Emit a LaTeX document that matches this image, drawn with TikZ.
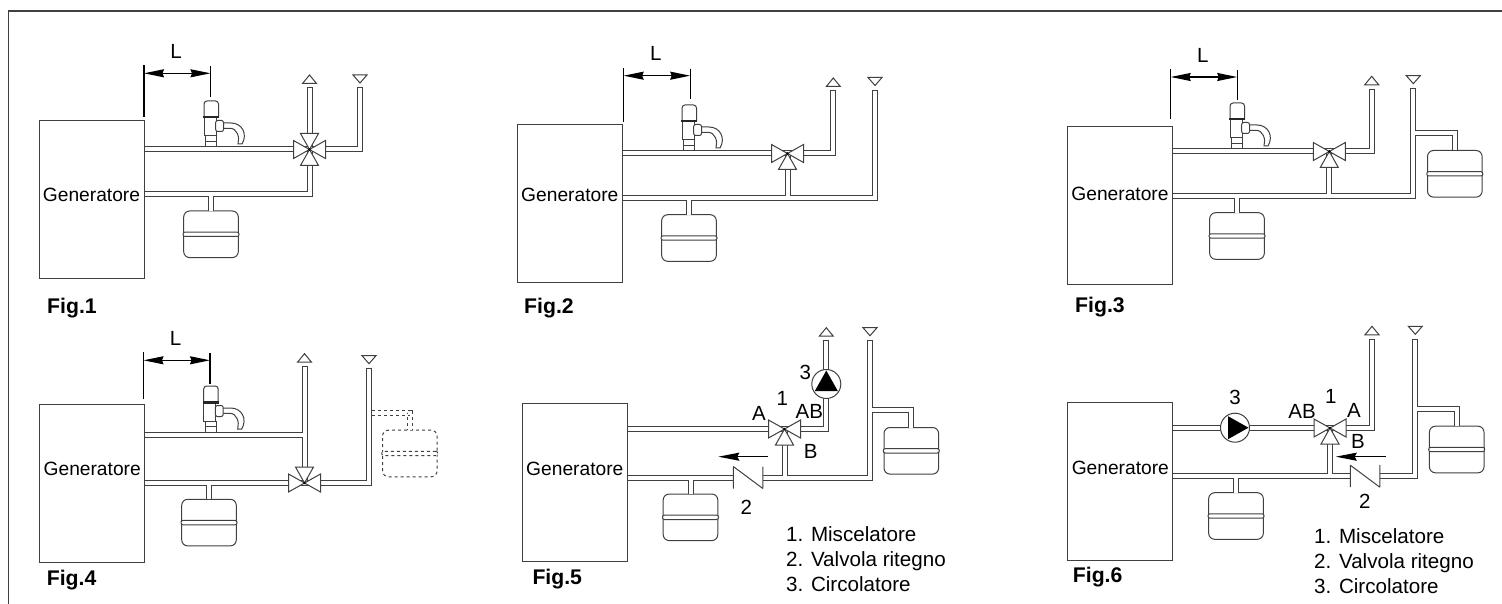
\documentclass[tikz,border=0pt]{standalone}
\usepackage{fontspec}
\setmainfont{Liberation Sans}
\usetikzlibrary{positioning, arrows.meta}
\definecolor{wall}{gray}{0.25}
\newcommand{\gensize}{\fontsize{19.2}{23}\selectfont}
\newcommand{\lblsize}{\fontsize{20.5}{24}\selectfont}
\tikzset{
  pipe/.style={draw=wall, line width=1pt, double=white, double distance=4pt, line join=miter},
  thin line/.style={draw=wall, line width=1pt},
  genbox/.style={thin line, minimum width=105pt, minimum height=158pt, inner sep=0pt, outer sep=0.5pt},
  gentext/.style={font=\gensize, inner sep=0pt},
  vessel/.style={thin line, fill=white, rounded corners=6pt, minimum width=54.6pt, minimum height=46.6pt, inner sep=0pt, outer sep=0pt},
  band/.style={thin line, fill=white, rounded corners=2pt, minimum width=56pt, minimum height=4.4pt, inner sep=0pt},
  pump/.style={thin line, fill=white, circle, minimum size=29pt, inner sep=0pt},
  lbl/.style={font=\lblsize, inner sep=0pt},
  figlabel/.style={font=\fontsize{21.2}{24}\selectfont\bfseries, anchor=base west, inner sep=0pt},
  legend/.style={font=\fontsize{20.6}{25}\selectfont, align=left, anchor=north west, inner sep=0pt},
  flow/.style={line width=1.4pt, -{Stealth[length=21pt,width=8pt,inset=2pt]}},
  pics/wedge/.style={code={
    \draw[thin line, fill=white, line join=miter] (0,0) -- (-16,-9) -- (-16,9) -- cycle;
    \fill[black] (0,0) circle (1.2);
  }},
  pics/upmark/.style={code={
    \draw[thin line] (-3,0) -- (3,0);
    \draw[thin line] (-7,-4.5) -- (7,-4.5) -- (0,-13) -- cycle;
  }},
  pics/downmark/.style={code={
    \draw[thin line] (-3,0) -- (3,0);
    \draw[thin line] (-7,-13) -- (7,-13) -- (0,-5) -- cycle;
  }},
  pics/pumptri/.style={code={
    \fill[black] (-7,-11.5) -- (13.5,0) -- (-7,11.5) -- cycle;
  }},
  pics/check/.style={code={
    \draw[thin line] (0,-11) -- (0,11) (29.5,-11) -- (29.5,11) (0,-11) -- (29.5,11);
  }},
  pics/dimL/.style={code={
    \draw[line width=1.2pt, black] (0,-8) -- (0,#1) (66.5,-7) -- (66.5,23.5);
    \draw[line width=1.3pt, black, {Stealth[length=20pt,width=8pt,inset=1.5pt]}-{Stealth[length=20pt,width=8pt,inset=1.5pt]}] (0,0) -- (66.5,0);
    \node[lbl] (-l) at (32,-22) {L};
  }},
  pics/safety/.style={code={
    \draw[thin line, fill=white] (12,-24) -- (20,-24) .. controls (31,-24) and (37,-13) .. (31,-3) -- (27,-3) .. controls (29,-10) and (26,-18.7) .. (19,-18.7) -- (12,-18.7);
    \draw[thin line, fill=white] (-5.5,-11) -- (-5.5,0) -- (5.5,0) -- (5.5,-11) (-5.5,-5.5) -- (5.5,-5.5);
    \draw[thin line, fill=white] (-7,-29.7) -- (-7,-11) -- (5,-11) -- (5,-29.7);
    \draw[thin line, fill=white, rounded corners=2pt] (4.7,-26.5) rectangle (12.5,-15.5);
    \draw[thin line, fill=white, rounded corners=3pt] (-7,-29.7) -- (-7,-46) -- (7.5,-46) -- (7.5,-29.7);
    \draw[line width=2.4pt, black!85] (-8,-29.7) -- (8,-29.7);
  }},
}
\begin{document}
\begin{tikzpicture}[x=1pt,y=-1pt]
  \path[fill=white, use as bounding box] (0,0) rectangle (1502,604);
  \draw[wall, line width=1.7pt] (8.5,604) -- (8.5,11) -- (1502,11);

  % Fig.1
  \coordinate (mix1) at (309.5,149.5);
  \coordinate (ret1) at (309.5,194.5);
  \coordinate (tee1) at (211,194.5);
  \coordinate (up1) at (309.5,88);
  \coordinate (dn1) at (360,88);
  \node[genbox] (gen1) at (91.5,199.5) {};
  \node[gentext] (txt1) at (91.5,195) {Generatore};
  \node[vessel, below=16.5pt of tee1] (vs1) {};
  \node[band] (bd1) at (vs1) {};
  \draw[pipe] (gen1.east |- mix1) -- (mix1) -- (dn1 |- mix1) -- (dn1) (up1) -- (mix1) -- (ret1) -- (gen1.east |- ret1) (tee1) -- (vs1.north);
  \foreach \ang in {0,90,180,270} \pic[rotate=\ang] at (mix1) {wedge};
  \pic at (up1) {upmark};
  \pic at (dn1) {downmark};
  \pic at (211,147) {safety};
  \pic (dm1) at (144,73.3) {dimL=44};
  \node[figlabel] (fig1) at (47,313.3) {Fig.1};

  % Fig.2
  \coordinate (mix2) at (787.5,153.5);
  \coordinate (ret2) at (787.5,198.2);
  \coordinate (tee2) at (689,198.2);
  \coordinate (up2) at (833.3,91);
  \coordinate (dn2) at (875,90.5);
  \node[genbox] (gen2) at (569.8,203.5) {};
  \node[gentext] (txt2) at (569.8,194.5) {Generatore};
  \node[vessel, below=16.5pt of tee2] (vs2) {};
  \node[band] (bd2) at (vs2) {};
  \draw[pipe] (gen2.east |- mix2) -- (mix2) -- (up2 |- mix2) -- (up2) (mix2) -- (ret2) (gen2.east |- ret2) -- (dn2 |- ret2) -- (dn2) (tee2) -- (vs2.north);
  \foreach \ang in {0,90,180} \pic[rotate=\ang] at (mix2) {wedge};
  \pic at (up2) {upmark};
  \pic at (dn2) {downmark};
  \pic at (689,151) {safety};
  \pic (dm2) at (623.7,75.7) {dimL=46};
  \node[figlabel] (fig2) at (524,313) {Fig.2};

  % Fig.3
  \coordinate (mix3) at (1329.3,151.5);
  \coordinate (ret3) at (1329.3,196.2);
  \coordinate (tee3) at (1237,196.2);
  \coordinate (up3) at (1371.7,89.3);
  \coordinate (dn3) at (1413.3,88.7);
  \coordinate (xp3) at (1454.8,133);
  \node[genbox] (gen3) at (1120,205.3) {};
  \node[gentext] (txt3) at (1120,193.5) {Generatore};
  \node[vessel, below=16.5pt of tee3] (vs3) {};
  \node[band] (bd3) at (vs3) {};
  \node[vessel, below=17.5pt of xp3] (ev3) {};
  \node[band] (be3) at (ev3) {};
  \draw[pipe] (gen3.east |- mix3) -- (mix3) -- (up3 |- mix3) -- (up3) (mix3) -- (ret3) (gen3.east |- ret3) -- (dn3 |- ret3) -- (dn3) (tee3) -- (vs3.north) (dn3 |- xp3) -- (xp3) -- (ev3.north);
  \foreach \ang in {0,90,180} \pic[rotate=\ang] at (mix3) {wedge};
  \pic at (up3) {upmark};
  \pic at (dn3) {downmark};
  \pic at (1237,149) {safety};
  \pic (dm3) at (1170.7,77) {dimL=42.3};
  \node[figlabel] (fig3) at (1075,312.5) {Fig.3};

  % Fig.4
  \coordinate (mix4) at (304.5,483);
  \coordinate (top4) at (304.5,435);
  \coordinate (tee4) at (209,482.8);
  \coordinate (up4) at (304.5,366.7);
  \coordinate (dn4) at (369,368.7);
  \coordinate (xp4) at (409.8,412.7);
  \node[genbox] (gen4) at (92.2,483.3) {};
  \node[gentext] (txt4) at (92.2,468.5) {Generatore};
  \node[vessel, below=16.5pt of tee4] (vs4) {};
  \node[band] (bd4) at (vs4) {};
  \node[vessel, dashed, below=17.5pt of xp4] (ev4) {};
  \node[band, dashed] (be4) at (ev4) {};
  \draw[pipe] (gen4.east |- top4) -- (top4) (up4) -- (mix4) (gen4.east |- mix4) -- (mix4) -- (dn4 |- mix4) -- (dn4) (tee4) -- (vs4.north);
  \draw[pipe, dashed] (dn4 |- xp4) ++(3,0) -- (xp4) -- (ev4.north);
  \foreach \ang in {0,180,270} \pic[rotate=\ang] at (mix4) {wedge};
  \pic at (up4) {upmark};
  \pic at (dn4) {downmark};
  \pic at (210.7,432) {safety};
  \pic (dm4) at (143.5,360.3) {dimL=39};
  \node[figlabel] (fig4) at (46.7,585) {Fig.4};

  % Fig.5
  \coordinate (mix5) at (784.5,429);
  \coordinate (ret5) at (784.5,477.5);
  \coordinate (tee5) at (690.5,477.5);
  \coordinate (up5) at (826.3,340.7);
  \coordinate (dn5) at (870,340.7);
  \coordinate (xp5) at (911.3,410);
  \coordinate (ck5) at (733.3,477.5);
  \coordinate (fl5) at (768.3,456.7);
  \node[genbox] (gen5) at (574.8,482.3) {};
  \node[gentext] (txt5) at (574.8,469.3) {Generatore};
  \node[vessel, below=16.5pt of tee5] (vs5) {};
  \node[band] (bd5) at (vs5) {};
  \node[vessel, below=17.5pt of xp5] (ev5) {};
  \node[band] (be5) at (ev5) {};
  \draw[pipe] (gen5.east |- mix5) -- (mix5) -- (up5 |- mix5) -- (up5) (mix5) -- (ret5) (gen5.east |- ret5) -- (ck5) ([xshift=29.5pt]ck5) -- (dn5 |- ret5) -- (dn5) (tee5) -- (vs5.north) (dn5 |- xp5) -- (xp5) -- (ev5.north);
  \foreach \ang in {0,90,180} \pic[rotate=\ang] at (mix5) {wedge};
  \pic at (up5) {upmark};
  \pic at (dn5) {downmark};
  \pic at (ck5) {check};
  \node[pump] (pp5) at (826.3,384) {};
  \pic[rotate=90] at (pp5) {pumptri};
  \draw[flow] (fl5) -- ++(-50,0);
  \node[lbl] (one5) at (782.3,398.3) {1};
  \node[lbl] (a5) at (759,413.3) {A};
  \node[lbl] (ab5) at (809.3,411.7) {AB};
  \node[lbl] (b5) at (810.7,451.3) {B};
  \node[lbl] (three5) at (805.3,372.3) {3};
  \node[lbl] (two5) at (746.3,507.3) {2};
  \node[figlabel] (fig5) at (532.3,584.3) {Fig.5};
  \node[legend] (leg5) at (786,526.5) {1. Miscelatore\\2. Valvola ritegno\\3. Circolatore};

  % Fig.6
  \coordinate (mix6) at (1330,428);
  \coordinate (ret6) at (1330,476.2);
  \coordinate (tee6) at (1236,476.2);
  \coordinate (up6) at (1372,339.3);
  \coordinate (dn6) at (1415.3,339.3);
  \coordinate (xp6) at (1456.7,408.7);
  \coordinate (ck6) at (1350.3,476.2);
  \coordinate (fl6) at (1385.7,456.7);
  \node[genbox] (gen6) at (1120.3,481) {};
  \node[gentext] (txt6) at (1120.3,468.3) {Generatore};
  \node[vessel, below=16.5pt of tee6] (vs6) {};
  \node[band] (bd6) at (vs6) {};
  \node[vessel, below=17.5pt of xp6] (ev6) {};
  \node[band] (be6) at (ev6) {};
  \draw[pipe] (gen6.east |- mix6) -- (mix6) -- (up6 |- mix6) -- (up6) (mix6) -- (ret6) (gen6.east |- ret6) -- (ck6) ([xshift=29.5pt]ck6) -- (dn6 |- ret6) -- (dn6) (tee6) -- (vs6.north) (dn6 |- xp6) -- (xp6) -- (ev6.north);
  \foreach \ang in {0,90,180} \pic[rotate=\ang] at (mix6) {wedge};
  \pic at (up6) {upmark};
  \pic at (dn6) {downmark};
  \pic at (ck6) {check};
  \node[pump] (pp6) at (1235,427.7) {};
  \pic at (pp6) {pumptri};
  \draw[flow] (fl6) -- ++(-50,0);
  \node[lbl] (one6) at (1330.7,396.7) {1};
  \node[lbl] (a6) at (1354,410.7) {A};
  \node[lbl] (ab6) at (1302,411.7) {AB};
  \node[lbl] (b6) at (1358,441) {B};
  \node[lbl] (three6) at (1235,397.7) {3};
  \node[lbl] (two6) at (1364.7,501.7) {2};
  \node[figlabel] (fig6) at (1072.7,582.3) {Fig.6};
  \node[legend] (leg6) at (1314,528) {1. Miscelatore\\2. Valvola ritegno\\3. Circolatore};
\end{tikzpicture}
\end{document}
